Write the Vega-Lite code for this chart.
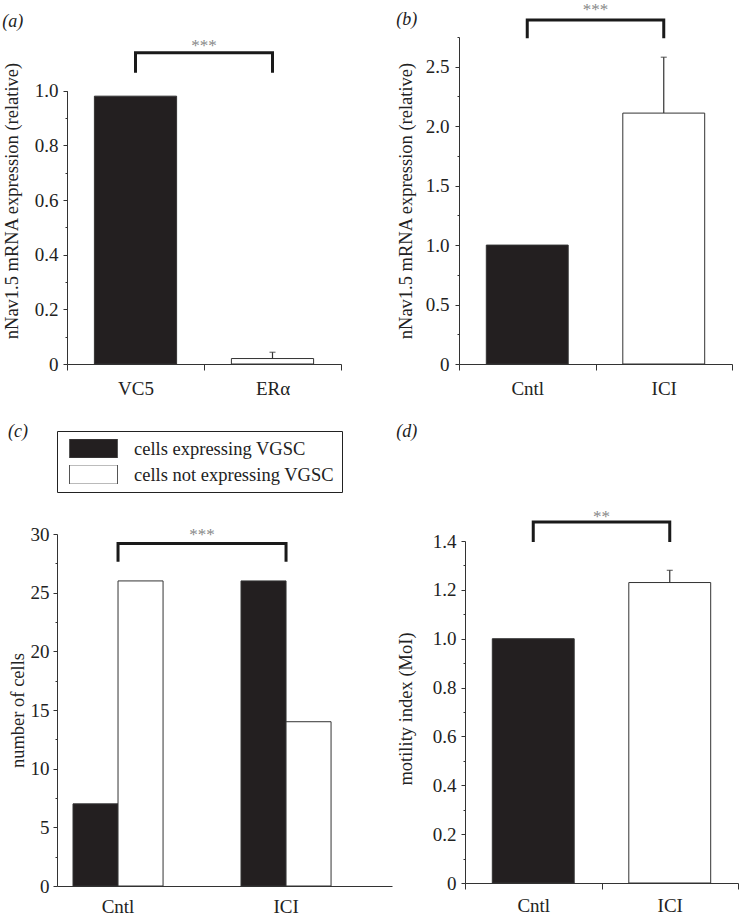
{
  "$schema": "https://vega.github.io/schema/vega-lite/v6.json",
  "padding": {"left": 2, "top": 0, "right": 0, "bottom": 0},
  "background": "white",
  "datasets": {
    "a": [
      {"cond": "VC5", "value": 0.98, "shade": "filled"},
      {"cond": "ERα", "value": 0.02, "upper": 0.043, "shade": "open"}
    ],
    "a_br": [
      {"cond": "VC5", "y": 1.066, "o": 1},
      {"cond": "VC5", "y": 1.139, "o": 2},
      {"cond": "ERα", "y": 1.139, "o": 3},
      {"cond": "ERα", "y": 1.066, "o": 4}
    ],
    "a_sig": [{"cond": "VC5", "y": 1.163, "label": "***"}],
    "b": [
      {"cond": "Cntl", "value": 1.0, "shade": "filled"},
      {"cond": "ICI", "value": 2.11, "upper": 2.58, "shade": "open"}
    ],
    "b_br": [
      {"cond": "Cntl", "y": 2.74, "o": 1},
      {"cond": "Cntl", "y": 2.892, "o": 2},
      {"cond": "ICI", "y": 2.892, "o": 3},
      {"cond": "ICI", "y": 2.74, "o": 4}
    ],
    "b_sig": [{"cond": "Cntl", "y": 2.98, "label": "***"}],
    "c": [
      {"cond": "Cntl", "group": "cells expressing VGSC", "n": 7},
      {"cond": "Cntl", "group": "cells not expressing VGSC", "n": 26},
      {"cond": "ICI", "group": "cells expressing VGSC", "n": 26},
      {"cond": "ICI", "group": "cells not expressing VGSC", "n": 14}
    ],
    "c_br": [
      {"cond": "Cntl", "y": 27.64, "o": 1},
      {"cond": "Cntl", "y": 29.2, "o": 2},
      {"cond": "ICI", "y": 29.2, "o": 3},
      {"cond": "ICI", "y": 27.64, "o": 4}
    ],
    "c_sig": [{"cond": "Cntl", "y": 29.9, "label": "***"}],
    "d": [
      {"cond": "Cntl", "value": 1.0, "shade": "filled"},
      {"cond": "ICI", "value": 1.23, "upper": 1.28, "shade": "open"}
    ],
    "d_br": [
      {"cond": "Cntl", "y": 1.396, "o": 1},
      {"cond": "Cntl", "y": 1.478, "o": 2},
      {"cond": "ICI", "y": 1.478, "o": 3},
      {"cond": "ICI", "y": 1.396, "o": 4}
    ],
    "d_sig": [{"cond": "Cntl", "y": 1.5, "label": "**"}]
  },
  "spacing": 24,
  "resolve": {"scale": {"fill": "independent"}, "legend": {"fill": "independent"}},
  "vconcat": [
    {
      "spacing": 54,
      "resolve": {"scale": {"fill": "independent"}, "legend": {"fill": "independent"}},
      "hconcat": [
        {
          "width": 284,
          "height": 327,
          "title": {"text": "(a)", "offset": 6},
          "resolve": {"axis": {"y": "independent"}},
          "layer": [
            {
              "data": {"name": "a"},
              "mark": {"type": "bar", "width": {"band": 0.6}, "stroke": "#333", "strokeWidth": 1},
              "encoding": {
                "x": {"field": "cond", "type": "nominal", "sort": null, "scale": {"domain": ["VC5", "ERα"], "paddingInner": 0, "paddingOuter": 0.0365, "align": 1}, "axis": {"title": null, "domainDash": [0, 10, 274, 1000]}},
                "y": {"field": "value", "type": "quantitative", "scale": {"domain": [0, 1.1965], "nice": false},
                  "axis": {"title": "nNav1.5 mRNA expression (relative)", "values": [0, 0.2, 0.4, 0.6, 0.8, 1], "labelExpr": "datum.value == 0 ? '0' : format(datum.value, '.1f')", "titlePadding": 13, "domainDash": [273.3, 1000], "offset": -10}},
                "fill": {"field": "shade", "type": "nominal", "scale": {"domain": ["filled", "open"], "range": ["#231f20", "#ffffff"]}, "legend": null}
              }
            },
            {
              "data": {"name": "a"},
              "transform": [{"filter": "datum.upper != null"}],
              "mark": {"type": "rule", "color": "#333", "strokeWidth": 1.2},
              "encoding": {
                "x": {"field": "cond", "type": "nominal"},
                "y": {"field": "value", "type": "quantitative", "scale": {"domain": [0, 1.1965], "nice": false}, "axis": null},
                "y2": {"field": "upper"}
              }
            },
            {
              "data": {"name": "a"},
              "transform": [{"filter": "datum.upper != null"}],
              "mark": {"type": "tick", "orient": "horizontal", "size": 6, "thickness": 1.2, "color": "#333"},
              "encoding": {
                "x": {"field": "cond", "type": "nominal"},
                "y": {"field": "upper", "type": "quantitative", "scale": {"domain": [0, 1.1965], "nice": false}, "axis": null}
              }
            },
            {
              "data": {"name": "a_br"},
              "mark": {"type": "line", "color": "#1a1a1a", "strokeWidth": 3, "strokeJoin": "miter", "strokeCap": "butt"},
              "encoding": {
                "x": {"field": "cond", "type": "nominal"},
                "y": {"field": "y", "type": "quantitative", "scale": {"domain": [0, 1.1965], "nice": false},
                  "axis": {"orient": "left", "title": null, "labels": false, "domain": false, "tickSize": 2, "offset": -10, "values": [0.1, 0.3, 0.5, 0.7, 0.9]}},
                "order": {"field": "o", "type": "quantitative"}
              }
            },
            {
              "data": {"name": "a_sig"},
              "mark": {"type": "text", "color": "#888", "fontSize": 17},
              "encoding": {
                "x": {"field": "cond", "type": "nominal", "bandPosition": 1},
                "y": {"field": "y", "type": "quantitative", "scale": {"domain": [0, 1.1965], "nice": false}, "axis": null},
                "text": {"field": "label"}
              }
            }
          ]
        },
        {
          "width": 273,
          "height": 327,
          "title": {"text": "(b)", "offset": 0, "dy": 28},
          "resolve": {"axis": {"y": "independent"}},
          "layer": [
            {
              "data": {"name": "b"},
              "mark": {"type": "bar", "width": {"band": 0.6}, "stroke": "#333", "strokeWidth": 1},
              "encoding": {
                "x": {"field": "cond", "type": "nominal", "sort": null, "scale": {"domain": ["Cntl", "ICI"], "paddingInner": 0, "paddingOuter": 0}, "axis": {"title": null}},
                "y": {"field": "value", "type": "quantitative", "scale": {"domain": [0, 2.75], "nice": false},
                  "axis": {"title": "nNav1.5 mRNA expression (relative)", "values": [0, 0.5, 1, 1.5, 2, 2.5], "labelExpr": "datum.value == 0 ? '0' : format(datum.value, '.1f')", "titlePadding": 10, "labelPadding": 6}},
                "fill": {"field": "shade", "type": "nominal", "scale": {"domain": ["filled", "open"], "range": ["#231f20", "#ffffff"]}, "legend": null}
              }
            },
            {
              "data": {"name": "b"},
              "transform": [{"filter": "datum.upper != null"}],
              "mark": {"type": "rule", "color": "#333", "strokeWidth": 1.2},
              "encoding": {
                "x": {"field": "cond", "type": "nominal"},
                "y": {"field": "value", "type": "quantitative", "scale": {"domain": [0, 2.75], "nice": false}, "axis": null},
                "y2": {"field": "upper"}
              }
            },
            {
              "data": {"name": "b"},
              "transform": [{"filter": "datum.upper != null"}],
              "mark": {"type": "tick", "orient": "horizontal", "size": 6, "thickness": 1.2, "color": "#333"},
              "encoding": {
                "x": {"field": "cond", "type": "nominal"},
                "y": {"field": "upper", "type": "quantitative", "scale": {"domain": [0, 2.75], "nice": false}, "axis": null}
              }
            },
            {
              "data": {"name": "b_br"},
              "mark": {"type": "line", "color": "#1a1a1a", "strokeWidth": 3, "strokeJoin": "miter", "strokeCap": "butt"},
              "encoding": {
                "x": {"field": "cond", "type": "nominal"},
                "y": {"field": "y", "type": "quantitative", "scale": {"domain": [0, 2.75], "nice": false},
                  "axis": {"orient": "left", "title": null, "labels": false, "domain": false, "tickSize": 2, "values": [0.25, 0.75, 1.25, 1.75, 2.25, 2.75]}},
                "order": {"field": "o", "type": "quantitative"}
              }
            },
            {
              "data": {"name": "b_sig"},
              "mark": {"type": "text", "color": "#888", "fontSize": 17},
              "encoding": {
                "x": {"field": "cond", "type": "nominal", "bandPosition": 1},
                "y": {"field": "y", "type": "quantitative", "scale": {"domain": [0, 2.75], "nice": false}, "axis": null},
                "text": {"field": "label"}
              }
            }
          ]
        }
      ]
    },
    {
      "spacing": 4,
      "resolve": {"scale": {"fill": "independent"}, "legend": {"fill": "independent"}},
      "hconcat": [
        {
          "width": 335,
          "height": 352,
          "title": {"text": "(c)", "offset": -10},
          "resolve": {"axis": {"y": "independent"}},
          "layer": [
            {
              "data": {"name": "c"},
              "mark": {"type": "bar", "stroke": "#333", "strokeWidth": 1},
              "encoding": {
                "x": {"field": "cond", "type": "nominal", "sort": null, "scale": {"domain": ["Cntl", "ICI"], "paddingInner": 0.464, "paddingOuter": 0.229, "align": 0.208}, "axis": {"title": null, "ticks": false, "tickBand": "center", "labelPadding": 11}},
                "xOffset": {"field": "group", "type": "nominal", "sort": null},
                "y": {"field": "n", "type": "quantitative", "scale": {"domain": [0, 30], "nice": false},
                  "axis": {"title": "number of cells", "values": [0, 5, 10, 15, 20, 25, 30], "titlePadding": 3, "labelPadding": 4}},
                "fill": {"field": "group", "type": "nominal", "sort": null,
                  "scale": {"domain": ["cells expressing VGSC", "cells not expressing VGSC"], "range": ["#231f20", "#ffffff"]},
                  "legend": {"orient": "top", "direction": "vertical", "title": null, "offset": 42, "padding": 8, "strokeColor": "#222",
                    "symbolType": "M-1,-0.4H1V0.4H-1Z", "symbolSize": 2304, "symbolStrokeColor": "#555", "symbolStrokeWidth": 1,
                    "symbolOffset": 4, "clipHeight": 19, "labelExpr": "datum.label + '  '",
                    "labelFont": "Liberation Serif", "labelFontSize": 18.5, "labelColor": "#222", "labelOffset": 16, "rowPadding": 7, "labelLimit": 400}}
              }
            },
            {
              "data": {"name": "c_br"},
              "mark": {"type": "line", "color": "#1a1a1a", "strokeWidth": 3, "strokeJoin": "miter", "strokeCap": "butt"},
              "encoding": {
                "x": {"field": "cond", "type": "nominal"},
                "y": {"field": "y", "type": "quantitative", "scale": {"domain": [0, 30], "nice": false},
                  "axis": {"orient": "left", "title": null, "labels": false, "domain": false, "tickSize": 2, "values": [2.5, 7.5, 12.5, 17.5, 22.5, 27.5]}},
                "order": {"field": "o", "type": "quantitative"}
              }
            },
            {
              "data": {"name": "c_sig"},
              "mark": {"type": "text", "color": "#888", "fontSize": 17},
              "encoding": {
                "x": {"field": "cond", "type": "nominal", "bandPosition": 1.433},
                "y": {"field": "y", "type": "quantitative", "scale": {"domain": [0, 30], "nice": false}, "axis": null},
                "text": {"field": "label"}
              }
            }
          ]
        },
        {
          "width": 273,
          "height": 349,
          "title": {"text": "(d)", "offset": 67},
          "resolve": {"axis": {"y": "independent"}},
          "layer": [
            {
              "data": {"name": "d"},
              "mark": {"type": "bar", "width": {"band": 0.6}, "stroke": "#333", "strokeWidth": 1},
              "encoding": {
                "x": {"field": "cond", "type": "nominal", "sort": null, "scale": {"domain": ["Cntl", "ICI"], "paddingInner": 0, "paddingOuter": 0}, "axis": {"title": null, "labelPadding": 7}},
                "y": {"field": "value", "type": "quantitative", "scale": {"domain": [0, 1.4287], "nice": false},
                  "axis": {"title": "motility index (MoI)", "values": [0, 0.2, 0.4, 0.6, 0.8, 1, 1.2, 1.4], "labelExpr": "datum.value == 0 ? '0' : format(datum.value, '.1f')", "titlePadding": 17, "labelPadding": 5, "domainDash": [342, 1000]}},
                "fill": {"field": "shade", "type": "nominal", "scale": {"domain": ["filled", "open"], "range": ["#231f20", "#ffffff"]}, "legend": null}
              }
            },
            {
              "data": {"name": "d"},
              "transform": [{"filter": "datum.upper != null"}],
              "mark": {"type": "rule", "color": "#333", "strokeWidth": 1.2},
              "encoding": {
                "x": {"field": "cond", "type": "nominal"},
                "y": {"field": "value", "type": "quantitative", "scale": {"domain": [0, 1.4287], "nice": false}, "axis": null},
                "y2": {"field": "upper"}
              }
            },
            {
              "data": {"name": "d"},
              "transform": [{"filter": "datum.upper != null"}],
              "mark": {"type": "tick", "orient": "horizontal", "size": 6, "thickness": 1.2, "color": "#333"},
              "encoding": {
                "x": {"field": "cond", "type": "nominal"},
                "y": {"field": "upper", "type": "quantitative", "scale": {"domain": [0, 1.4287], "nice": false}, "axis": null}
              }
            },
            {
              "data": {"name": "d_br"},
              "mark": {"type": "line", "color": "#1a1a1a", "strokeWidth": 3, "strokeJoin": "miter", "strokeCap": "butt"},
              "encoding": {
                "x": {"field": "cond", "type": "nominal"},
                "y": {"field": "y", "type": "quantitative", "scale": {"domain": [0, 1.4287], "nice": false},
                  "axis": {"orient": "left", "title": null, "labels": false, "domain": false, "tickSize": 2, "values": [0.1, 0.3, 0.5, 0.7, 0.9, 1.1, 1.3]}},
                "order": {"field": "o", "type": "quantitative"}
              }
            },
            {
              "data": {"name": "d_sig"},
              "mark": {"type": "text", "color": "#888", "fontSize": 17},
              "encoding": {
                "x": {"field": "cond", "type": "nominal", "bandPosition": 1},
                "y": {"field": "y", "type": "quantitative", "scale": {"domain": [0, 1.4287], "nice": false}, "axis": null},
                "text": {"field": "label"}
              }
            }
          ]
        }
      ]
    }
  ],
  "config": {
    "view": {"stroke": null},
    "font": "Liberation Serif",
    "axis": {
      "grid": false,
      "domainColor": "#333",
      "tickColor": "#333",
      "labelColor": "#222",
      "titleColor": "#222",
      "labelFont": "Liberation Serif",
      "titleFont": "Liberation Serif",
      "labelFontSize": 19,
      "titleFontSize": 18.5,
      "titleFontWeight": "normal",
      "domainWidth": 1,
      "tickWidth": 1
    },
    "axisX": {"labelAngle": 0, "tickBand": "extent", "tickSize": 6, "labelPadding": 9},
    "axisY": {"tickSize": 4, "labelPadding": 5},
    "title": {"font": "Liberation Serif", "fontSize": 18, "fontStyle": "italic", "fontWeight": "normal", "anchor": "start", "frame": "bounds", "color": "#222"}
  }
}
